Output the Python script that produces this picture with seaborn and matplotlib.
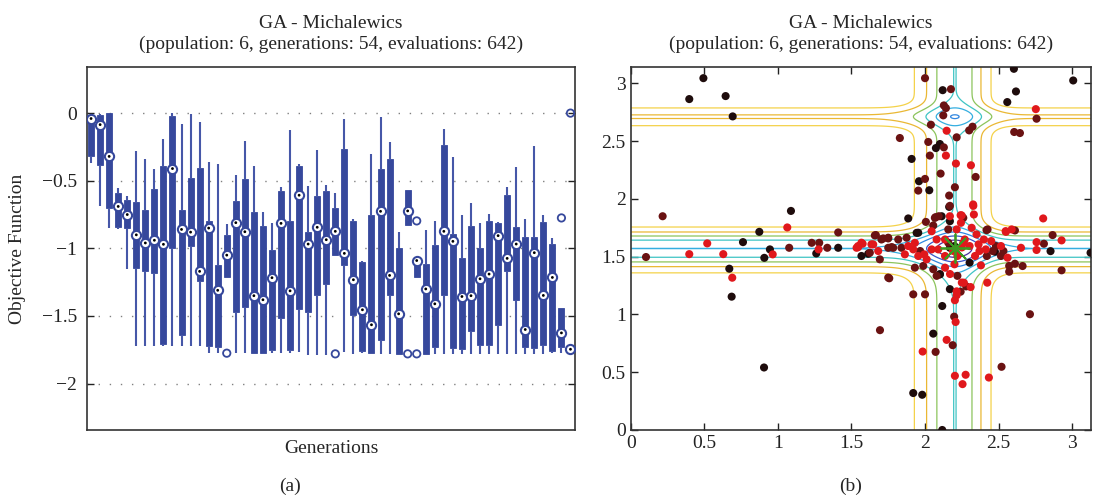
import numpy as np
import pandas as pd
import matplotlib
matplotlib.use("Agg")
import matplotlib.pyplot as plt
import seaborn as sns

# ---------------- data: panel (a) box statistics per generation ----------------
generations = list(range(1, 55))
box_low = [-0.37, -0.69, -0.85, -0.86, -1.15, -1.72, -1.72, -1.72, -1.72, -1.72,
           -1.72, -1.72, -1.72, -1.775, -1.775, -1.21, -1.775, -1.775, -1.773, -1.78,
           -1.775, -1.775, -1.775, -1.768, -1.785, -1.785, -1.785, -1.05, -1.768, -1.78,
           -1.775, -1.775, -1.78, -1.78, -1.78, -0.825, -1.21, -1.78, -1.78, -1.78,
           -1.78, -1.78, -1.78, -1.78, -1.78, -1.78, -1.78, -1.78, -1.78, -1.78,
           -1.78, -1.775, -1.775, -1.746]
box_q1 = [-0.32, -0.38, -0.70, -0.84, -0.85, -1.146, -1.17, -1.18, -1.71, -1.0,
          -1.64, -0.98, -1.24, -1.72, -1.73, -1.21, -1.47, -1.43, -1.773, -1.773,
          -1.75, -1.513, -1.75, -1.447, -1.467, -1.348, -1.267, -1.05, -1.12, -1.496,
          -1.76, -1.775, -1.674, -1.343, -1.78, -0.825, -1.21, -1.78, -1.73, -1.348,
          -1.736, -1.746, -1.612, -1.711, -1.711, -1.563, -1.168, -1.38, -1.73, -1.736,
          -1.711, -1.76, -1.726, -1.746]
box_med = [-0.04, -0.085, -0.32, -0.69, -0.75, -0.90, -0.96, -0.94, -0.97, -0.41,
           -0.86, -0.88, -1.17, -0.85, -1.31, -1.05, -0.81, -0.877, -1.35, -1.38,
           -1.217, -0.815, -1.314, -0.607, -0.968, -0.844, -0.936, -0.874, -1.037, -1.232,
           -1.454, -1.565, -0.726, -1.20, -1.484, -0.723, -1.09, -1.30, -1.41, -0.874,
           -0.948, -1.356, -1.35, -1.225, -1.19, -0.906, -1.074, -0.968, -1.60, -1.032,
           -1.348, -1.215, -1.625, -1.746]
box_q3 = [-0.015, -0.015, 0.0, -0.59, -0.645, -0.66, -0.72, -0.56, -0.39, -0.02,
          -0.72, -0.48, -0.405, -0.80, -1.12, -0.90, -0.65, -0.486, -0.733, -0.837,
          -1.01, -0.575, -0.80, -0.388, -0.879, -0.615, -0.575, -0.70, -0.262, -0.797,
          -1.10, -0.756, -0.412, -0.338, -0.998, -0.565, -1.07, -1.114, -0.978, -0.237,
          -0.896, -1.072, -0.837, -0.995, -0.80, -0.812, -0.602, -0.844, -0.916, -0.916,
          -0.805, -0.965, -1.44, -1.746]
box_high = [-0.005, -0.01, 0.0, -0.55, -0.615, -0.28, -0.34, -0.415, -0.19, 0.0,
            -0.08, -0.01, -0.067, -0.36, -0.375, -0.82, -0.46, -0.205, -0.393, -0.73,
            -0.81, -0.546, -0.126, -0.373, -0.538, -0.274, -0.528, -0.59, -0.047, -0.78,
            -1.096, -0.304, -0.032, -0.212, -0.879, -0.565, -1.07, -0.862, -0.80, -0.114,
            -0.328, -0.756, -0.662, -0.81, -0.748, -0.805, -0.546, -0.402, -0.78, -0.242,
            -0.756, -0.921, -1.44, -1.746]
outlier_gen = [16, 28, 36, 37, 37, 53, 54]
outlier_val = [-1.775, -1.78, -1.78, -0.797, -1.78, -0.775, 0.0]

# ---------------- data: panel (b) population points ----------------
black_x = [0.494, 0.398, 0.645, 0.693, 1.089, 0.874, 0.763, 0.946, 1.41, 1.261, 0.908, 0.67,
           0.686, 0.906, 2.604, 3.007, 2.618, 2.559, 2.12, 2.101, 2.074, 1.909, 1.959, 2.029,
           2.164, 1.886, 2.113, 1.943, 1.614, 2.853, 2.475, 3.125, 2.117, 2.056, 1.92, 1.981,
           2.117, 2.101, 2.169, 1.954, 2.169, 2.2, 2.303, 2.101, 1.568, 2.169]
black_y = [3.045, 2.864, 2.89, 2.714, 1.896, 1.715, 1.626, 1.563, 1.577, 1.528, 1.49, 1.396,
           1.154, 0.541, 3.126, 3.025, 2.93, 2.838, 2.941, 2.475, 2.44, 2.346, 2.153, 2.075,
           1.931, 1.831, 1.85, 1.706, 1.525, 1.548, 1.543, 1.534, 1.073, 0.834, 0.32, 0.305,
           0.0, 1.347, 1.807, 1.707, 1.577, 1.592, 1.448, 1.348, 1.506, 1.219]
darkred_x = [0.217, 1.41, 1.077, 1.23, 1.281, 1.336, 0.104, 2.0, 2.758, 2.606, 2.645, 2.176,
             2.128, 2.142, 2.124, 2.04, 2.323, 2.3, 2.215, 1.829, 2.022, 2.128, 2.033, 2.106,
             2.344, 2.0, 2.203, 1.954, 2.164, 2.072, 2.006, 2.418, 2.611, 2.867, 1.666, 1.75,
             1.716, 1.773, 2.808, 2.928, 2.572, 2.611, 2.663, 2.242, 1.757, 1.92, 2.0, 2.198,
             1.694, 2.713, 2.188, 2.072, 2.52, 2.067, 2.093, 2.169, 2.158, 2.425, 2.056, 2.158,
             1.967, 1.988, 2.056, 2.079, 2.22, 2.28, 1.875, 1.818, 1.84, 1.75, 1.704, 1.659,
             1.625, 1.693, 1.75, 1.784, 1.931, 1.75, 2.482, 2.46, 2.516, 2.572, 2.533, 2.42,
             2.26]
darkred_y = [1.85, 1.71, 1.577, 1.62, 1.62, 1.577, 1.497, 3.045, 2.694, 2.579, 2.57, 2.95,
             2.809, 2.786, 2.723, 2.642, 2.625, 2.593, 2.533, 2.527, 2.493, 2.446, 2.375, 2.219,
             2.19, 2.173, 2.101, 2.072, 2.029, 1.842, 1.801, 1.73, 1.727, 1.687, 1.687, 1.658,
             1.658, 1.583, 1.612, 1.382, 1.37, 1.439, 1.419, 1.197, 1.313, 1.174, 1.174, 0.981,
             0.864, 1.002, 0.734, 0.676, 0.547, 1.836, 1.85, 1.94, 1.736, 1.736, 1.77, 1.621,
             1.549, 1.42, 1.391, 1.334, 1.334, 1.243, 1.664, 1.649, 1.577, 1.664, 1.649, 1.684,
             1.534, 1.477, 1.577, 1.577, 1.405, 1.319, 1.592, 1.549, 1.506, 1.42, 1.549, 1.506,
             1.836]
red_x = [1.064, 0.52, 0.398, 0.629, 1.277, 1.535, 0.965, 0.69, 2.753, 2.147, 2.142, 2.21,
         2.312, 2.327, 2.332, 2.803, 2.169, 2.242, 2.55, 2.928, 1.576, 1.648, 1.546, 2.758,
         2.758, 2.652, 2.423, 2.31, 2.264, 2.215, 2.203, 2.208, 2.147, 1.984, 2.203, 2.276,
         2.255, 2.434, 2.249, 2.244, 2.215, 2.317, 2.328, 2.548, 2.589, 2.045, 2.079, 2.136,
         2.27, 2.303, 2.364, 2.37, 2.34, 2.38, 2.2, 2.22, 2.136, 2.09, 1.995, 2.011,
         2.136, 2.17, 2.25, 2.215, 2.045, 1.92, 1.886, 1.931, 1.863, 1.954, 1.636, 1.568,
         1.545, 1.682, 2.45, 2.516, 2.561, 2.413, 2.35, 2.4, 2.26, 2.19, 2.25]
red_y = [1.753, 1.615, 1.522, 1.522, 1.563, 1.577, 1.52, 1.318, 2.777, 2.59, 2.375, 2.306,
         2.291, 1.952, 1.865, 1.831, 1.85, 1.859, 1.715, 1.641, 1.612, 1.606, 1.583, 1.626,
         1.558, 1.577, 1.275, 1.237, 1.275, 1.166, 1.123, 0.935, 0.78, 0.679, 0.469, 0.478,
         0.397, 0.454, 1.857, 1.793, 1.736, 1.75, 1.94, 1.721, 1.736, 1.72, 1.649, 1.649,
         1.649, 1.592, 1.607, 1.549, 1.506, 1.425, 1.434, 1.506, 1.506, 1.563, 1.52, 1.477,
         1.405, 1.35, 1.276, 1.2, 1.563, 1.563, 1.592, 1.62, 1.52, 1.506, 1.607, 1.621,
         1.592, 1.549, 1.635, 1.592, 1.491, 1.563, 1.693, 1.649, 1.62, 1.55, 1.58]
best_x = [2.2029]
best_y = [1.5708]

contour_levels = [-1.6, -1.4, -1.2, -1.0, -0.8, -0.6, -0.4, -0.2]
contour_colors = ['#4a2fa0', '#3a55c8', '#2f86e0', '#35aee0', '#3fc4c4', '#8cc45c', '#eab834', '#f4d24a']

title_text = "GA - Michalewics\n(population: 6, generations: 54, evaluations: 642)"

# ---------------- style ----------------
sns.set_style("white")
plt.rcParams['font.family'] = ['Liberation Serif', 'DejaVu Serif']
plt.rcParams['axes.unicode_minus'] = True

BOX = '#36489c'
WHISK = '#4657a8'
FS = 14

fig = plt.figure(figsize=(10.94, 4.97), dpi=100)
W, H = 1094, 497
ax1 = fig.add_axes([87 / W, 1 - 430 / H, 488 / W, 363 / H])
ax2 = fig.add_axes([630.7 / W, 1 - 430 / H, 460 / W, 363 / H])

# ---------------- panel (a) ----------------
rows = []
for g, lo, a, m, b, hi in zip(generations, box_low, box_q1, box_med, box_q3, box_high):
    for v in (lo, a, m, b, hi):
        rows.append((g, v))
df_box = pd.DataFrame(rows, columns=['gen', 'value'])

for yv in [0, -0.5, -1, -1.5, -2]:
    ax1.axhline(yv, color='#808080', linestyle=(0, (1, 7)), linewidth=1.0, zorder=0)

sns.boxplot(data=df_box, x='gen', y='value', ax=ax1, whis=np.inf, width=0.66,
            color=BOX, linecolor=BOX, linewidth=0.6, saturation=1, showcaps=False,
            fliersize=0, medianprops=dict(color=BOX, linewidth=0),
            whiskerprops=dict(color=WHISK, linewidth=1.5))

pos = np.array(generations) - 1
sns.scatterplot(x=pos, y=box_med, ax=ax1, s=44, marker='o', color='white',
                edgecolor=BOX, linewidth=1.5, zorder=5, legend=False)
sns.scatterplot(x=pos, y=box_med, ax=ax1, s=4, marker='o', color='black',
                edgecolor='none', zorder=6, legend=False)
sns.scatterplot(x=np.array(outlier_gen) - 1, y=outlier_val, ax=ax1, s=28, marker='o',
                facecolor='none', edgecolor=BOX, linewidth=1.3, zorder=5, legend=False)

ax1.set_xlim(-0.45, 53.5)
ax1.set_ylim(-2.343, 0.341)
ax1.set_xticks([])
ax1.set_yticks([0, -0.5, -1, -1.5, -2])
ax1.set_yticklabels(['0', '\u22120.5', '\u22121', '\u22121.5', '\u22122'])
ax1.tick_params(axis='y', direction='in', left=True, right=True, length=5,
                width=1, labelsize=FS, pad=7, colors='#222222')
for sp in ax1.spines.values():
    sp.set_visible(True)
    sp.set_color('#333333')
    sp.set_linewidth(1.2)
ax1.set_xlabel('Generations', fontsize=FS, labelpad=7)
ax1.set_ylabel('Objective Function', fontsize=FS)
ax1.yaxis.set_label_coords(-0.125, 0.5)
ax1.set_title(title_text, fontsize=FS, linespacing=1.3, pad=13)

# ---------------- panel (b) ----------------
xg = np.linspace(0, np.pi, 401)
yg = np.linspace(0, np.pi, 401)
X, Y = np.meshgrid(xg, yg)
Z = -np.sin(X) * np.sin(X ** 2 / np.pi) ** 20 - np.sin(Y) * np.sin(2 * Y ** 2 / np.pi) ** 20
ax2.contour(X, Y, Z, levels=contour_levels, colors=contour_colors, linewidths=0.9, zorder=1)

pts = pd.DataFrame({
    'x': black_x + darkred_x + red_x,
    'y': black_y + darkred_y + red_y,
    'grp': ['black'] * len(black_x) + ['darkred'] * len(darkred_x) + ['red'] * len(red_x),
})
sns.scatterplot(data=pts, x='x', y='y', hue='grp', ax=ax2, s=34, edgecolor='none',
                palette={'black': '#1e0c0c', 'darkred': '#6a1212', 'red': '#e0181c'},
                legend=False, zorder=3)
sns.scatterplot(x=best_x, y=best_y, ax=ax2, marker=(8, 2, 0), s=420, color='#3c9a22',
                edgecolor='#3c9a22', linewidth=1.3, zorder=4, legend=False)

ax2.set_xlim(0, np.pi * 0.995)
ax2.set_ylim(0, np.pi)
ax2.set_xticks([0, 0.5, 1, 1.5, 2, 2.5, 3])
ax2.set_xticklabels(['0', '0.5', '1', '1.5', '2', '2.5', '3'])
ax2.set_yticks([0, 0.5, 1, 1.5, 2, 2.5, 3])
ax2.set_yticklabels(['0', '0.5', '1', '1.5', '2', '2.5', '3'])
ax2.tick_params(direction='in', top=True, right=True, bottom=True, left=True,
                length=5, width=1, labelsize=FS, colors='#222222')
for sp in ax2.spines.values():
    sp.set_visible(True)
    sp.set_color('#333333')
    sp.set_linewidth(1.2)
ax2.set_xlabel('')
ax2.set_ylabel('')
ax2.set_title(title_text, fontsize=FS, linespacing=1.3, pad=13)

fig.text(290 / W, 1 - 486 / H, '(a)', ha='center', va='center', fontsize=FS)
fig.text(851 / W, 1 - 486 / H, '(b)', ha='center', va='center', fontsize=FS)

fig.savefig('out.png', dpi=100)
